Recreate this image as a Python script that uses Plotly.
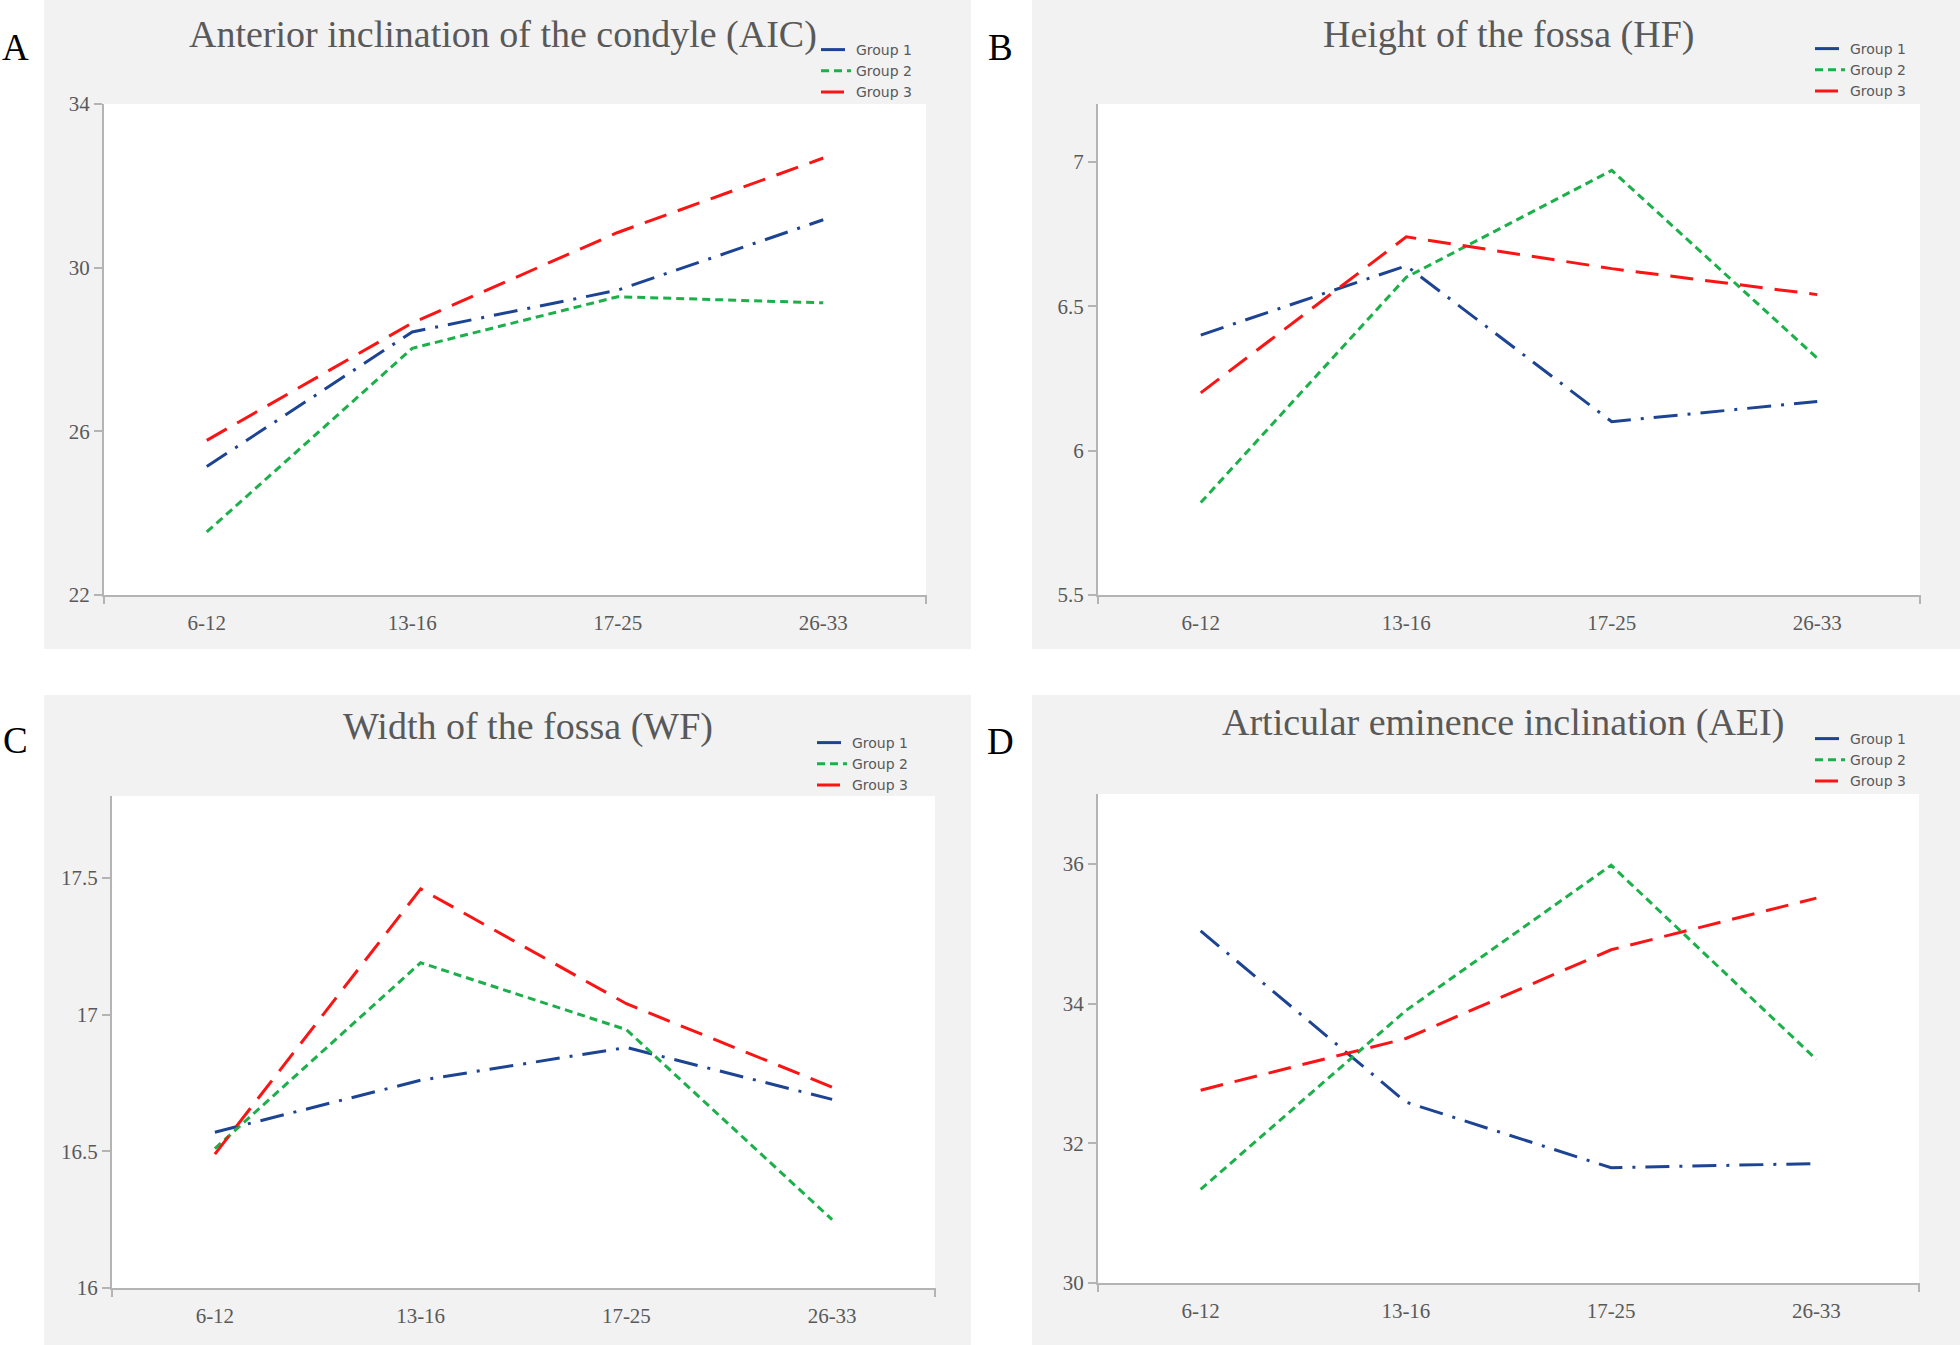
import plotly.graph_objects as go

# ---------------- data ----------------
age_groups = ["6-12", "13-16", "17-25", "26-33"]
group_names = ["Group 1", "Group 2", "Group 3"]

panel_titles = ["Anterior inclination of the condyle (AIC)", "Height of the fossa (HF)",
                "Width of the fossa (WF)", "Articular eminence inclination (AEI)"]
panel_letters = ["A", "B", "C", "D"]

aic_g1 = [25.14, 28.43, 29.45, 31.17]
aic_g2 = [23.54, 28.03, 29.29, 29.14]
aic_g3 = [25.78, 28.65, 30.86, 32.68]

hf_g1 = [6.40, 6.64, 6.10, 6.17]
hf_g2 = [5.82, 6.60, 6.97, 6.32]
hf_g3 = [6.20, 6.74, 6.63, 6.54]

wf_g1 = [16.57, 16.76, 16.88, 16.69]
wf_g2 = [16.51, 17.19, 16.945, 16.25]
wf_g3 = [16.49, 17.46, 17.04, 16.735]

aei_g1 = [35.04, 32.59, 31.65, 31.71]
aei_g2 = [31.34, 33.90, 35.98, 33.20]
aei_g3 = [32.76, 33.50, 34.77, 35.51]

y_ranges = [[22, 34], [5.5, 7.2], [16, 17.8], [30, 37]]
y_ticks = [[22, 26, 30, 34], [5.5, 6, 6.5, 7], [16, 16.5, 17, 17.5], [30, 32, 34, 36]]
y_ticktext = [["22", "26", "30", "34"], ["5.5", "6", "6.5", "7"],
              ["16", "16.5", "17", "17.5"], ["30", "32", "34", "36"]]

panels = [[aic_g1, aic_g2, aic_g3], [hf_g1, hf_g2, hf_g3],
          [wf_g1, wf_g2, wf_g3], [aei_g1, aei_g2, aei_g3]]

# ---------------- styling ----------------
W, H = 1960, 1345
colors = ["#1d4493", "#1bb04a", "#fa1414"]
dashes = ["24px,10px,3px,10px", "8px,5px", "23px,12px"]
gray_text = "#595959"
axis_gray = "#b4b4b4"
panel_bg = "#f2f2f2"

def px_x(v):
    return v / W

def px_y(v):
    return 1 - v / H

# plot areas (pixels): x0, x1, ytop, ybottom
plot_boxes = [(104, 926, 104, 595), (1098, 1920, 104, 595),
              (112, 935, 796, 1288), (1098, 1919, 794, 1283)]
bg_boxes = [(44, 971, 0, 649), (1032, 1960, 0, 649),
            (44, 971, 695, 1345), (1032, 1960, 695, 1345)]
title_pos = [(503, 35), (1508, 35), (528, 726), (1503, 722)]
letter_pos = [(15, 48), (1001, 48), (15, 740), (1001, 741)]
legend_pos = [(816, 34), (1810, 33), (812, 727), (1810, 723)]

fig = go.Figure()
shapes = []
annotations = []
layout_extra = {}

for i in range(4):
    ax = "" if i == 0 else str(i + 1)
    leg = "legend" if i == 0 else "legend" + str(i + 1)
    for g in range(3):
        fig.add_trace(go.Scatter(
            x=age_groups, y=panels[i][g], mode="lines", name=group_names[g],
            line=dict(color=colors[g], width=3, dash=dashes[g]),
            xaxis="x" + ax, yaxis="y" + ax, legend=leg, showlegend=True,
        ))
    x0, x1, yt, yb = plot_boxes[i]
    layout_extra["xaxis" + ax] = dict(
        domain=[px_x(x0), px_x(x1)], anchor="y" + ax, type="category",
        range=[-0.5, 3.5], showgrid=False, zeroline=False, automargin=False,
        showline=True, linecolor=axis_gray, linewidth=2, ticks="",
        tickfont=dict(family="Liberation Serif", size=21, color=gray_text),
        ticklabelstandoff=8,
    )
    layout_extra["yaxis" + ax] = dict(
        domain=[px_y(yb), px_y(yt)], anchor="x" + ax, range=y_ranges[i],
        tickvals=y_ticks[i], ticktext=y_ticktext[i], showgrid=False, zeroline=False,
        showline=True, linecolor=axis_gray, linewidth=2, ticks="outside", automargin=False,
        ticklen=8, tickcolor=axis_gray, tickwidth=2,
        tickfont=dict(family="Liberation Serif", size=21, color=gray_text),
    )
    lx, ly = legend_pos[i]
    layout_extra[leg] = dict(
        x=px_x(lx), y=px_y(ly), xanchor="left", yanchor="top",
        bgcolor="rgba(0,0,0,0)", borderwidth=0, tracegroupgap=0,
        font=dict(family="DejaVu Sans", size=14, color=gray_text),
        itemwidth=30,
    )
    bx0, bx1, by0, by1 = bg_boxes[i]
    shapes.append(dict(type="rect", xref="paper", yref="paper",
                       x0=px_x(bx0), x1=px_x(bx1), y0=px_y(by1), y1=px_y(by0),
                       fillcolor=panel_bg, line=dict(width=0), layer="below"))
    shapes.append(dict(type="rect", xref="x" + ax + " domain", yref="y" + ax + " domain",
                       x0=0, x1=1, y0=0, y1=1,
                       fillcolor="#ffffff", line=dict(width=0), layer="below"))
    # end ticks of the category axis
    for xd in (0, 1):
        shapes.append(dict(type="line", xref="x" + ax + " domain", yref="y" + ax + " domain",
                           x0=xd, x1=xd, y0=0, y1=-9, ysizemode="pixel", yanchor=0,
                           line=dict(color=axis_gray, width=2)))
    tx, ty = title_pos[i]
    annotations.append(dict(text=panel_titles[i], x=px_x(tx), y=px_y(ty), xref="paper",
                            yref="paper", showarrow=False, xanchor="center", yanchor="middle",
                            font=dict(family="Liberation Serif", size=38, color=gray_text)))
    lx2, ly2 = letter_pos[i]
    annotations.append(dict(text=panel_letters[i], x=px_x(lx2), y=px_y(ly2), xref="paper",
                            yref="paper", showarrow=False, xanchor="center", yanchor="middle",
                            font=dict(family="Liberation Serif", size=37, color="#000000")))

fig.update_layout(
    width=W, height=H, margin=dict(l=0, r=0, t=0, b=0, autoexpand=False),
    paper_bgcolor="#ffffff", plot_bgcolor="#ffffff",
    shapes=shapes, annotations=annotations, **layout_extra,
)

fig.write_html("out.html", config={"displayModeBar": False},
               post_script="document.body.style.margin='0';")
